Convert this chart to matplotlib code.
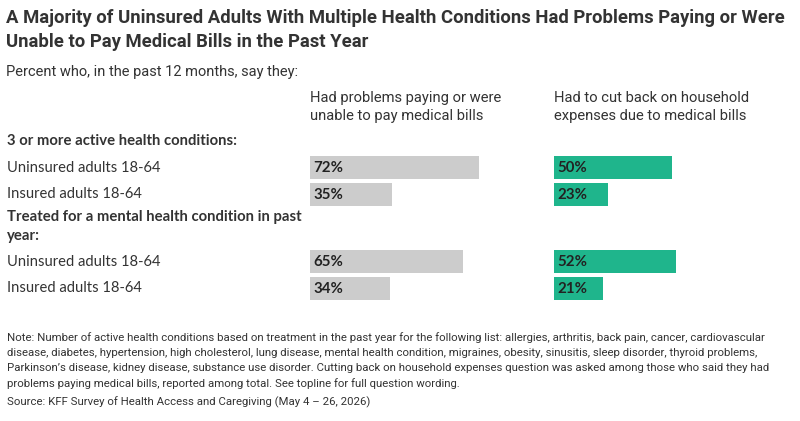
import matplotlib.pyplot as plt
from matplotlib import font_manager

# data
groups = ["3 or more active health conditions:",
          "Treated for a mental health condition in past\nyear:"]
rows = ["Uninsured adults 18-64", "Insured adults 18-64",
        "Uninsured adults 18-64", "Insured adults 18-64"]
problems_paying = [72, 35, 65, 34]
cut_back = [50, 23, 52, 21]
col_titles = ["Had problems paying or were\nunable to pay medical bills",
              "Had to cut back on household\nexpenses due to medical bills"]

title = ("A Majority of Uninsured Adults With Multiple Health Conditions Had Problems Paying or Were\n"
         "Unable to Pay Medical Bills in the Past Year")
subtitle = "Percent who, in the past 12 months, say they:"
note = ("Note: Number of active health conditions based on treatment in the past year for the following list: allergies, arthritis, back pain, cancer, cardiovascular\n"
        "disease, diabetes, hypertension, high cholesterol, lung disease, mental health condition, migraines, obesity, sinusitis, sleep disorder, thyroid problems,\n"
        "Parkinson\u2019s disease, kidney disease, substance use disorder. Cutting back on household expenses question was asked among those who said they had\n"
        "problems paying medical bills, reported among total. See topline for full question wording.")
source = "Source: KFF Survey of Health Access and Caregiving (May 4 \u2013 26, 2026)"

GRAY = "#cccccc"
GREEN = "#1fb58c"
TXT = "#333333"

NARROW = "Roboto"
WIDE = "Lato"

W, H = 800, 421
fig = plt.figure(figsize=(W / 100, H / 100), dpi=100)


def put(x, y, s, **kw):
    # x, y in pixels from top-left
    fig.text(x / W, 1 - y / H, s, **kw)


put(6, 30, title, fontsize=13.35, fontweight="bold", family=NARROW, color=TXT,
    va="center", linespacing=1.45)
put(6, 72, subtitle, fontsize=10.5, family=NARROW, color=TXT, va="center")
put(310, 107, col_titles[0], fontsize=10.6, family=NARROW, color=TXT, va="center", linespacing=1.35)
put(554, 107, col_titles[1], fontsize=10.6, family=NARROW, color=TXT, va="center", linespacing=1.35)

put(7, 141, groups[0], fontsize=10.7, fontweight="bold", family=WIDE, color=TXT, va="center")
put(7, 226.5, groups[1], fontsize=10.7, fontweight="bold", family=WIDE, color=TXT, va="center",
    linespacing=1.5)
row_y = [167.5, 194.5, 261.5, 288.5]
for lab, yy in zip(rows, row_y):
    put(7, yy, lab, fontsize=10.6, family=WIDE, color=TXT, va="center")

put(7, 360.5, note, fontsize=8.2, family=NARROW, color=TXT, va="center", linespacing=1.62)
put(7, 402, source, fontsize=8.2, family=NARROW, color=TXT, va="center")

# bar panels: 2.35 px per percentage point, rows mapped in pixel units
px_per_pct = 2.35
top, bot = 140, 310
for x0, vals, col in [(310, problems_paying, GRAY), (554, cut_back, GREEN)]:
    ax = fig.add_axes([x0 / W, 1 - bot / H, 100 * px_per_pct / W, (bot - top) / H])
    ax.set_xlim(0, 100)
    ax.set_ylim(bot, top)
    ax.barh(row_y, vals, height=23, color=col, left=0)
    for v, yy in zip(vals, row_y):
        ax.text(1.5, yy + 0.5, f"{v}%", fontsize=10.8, fontweight="bold", family=WIDE,
                color="#222222", va="center", ha="left")
    ax.axis("off")

fig.savefig("out.png", dpi=100)
